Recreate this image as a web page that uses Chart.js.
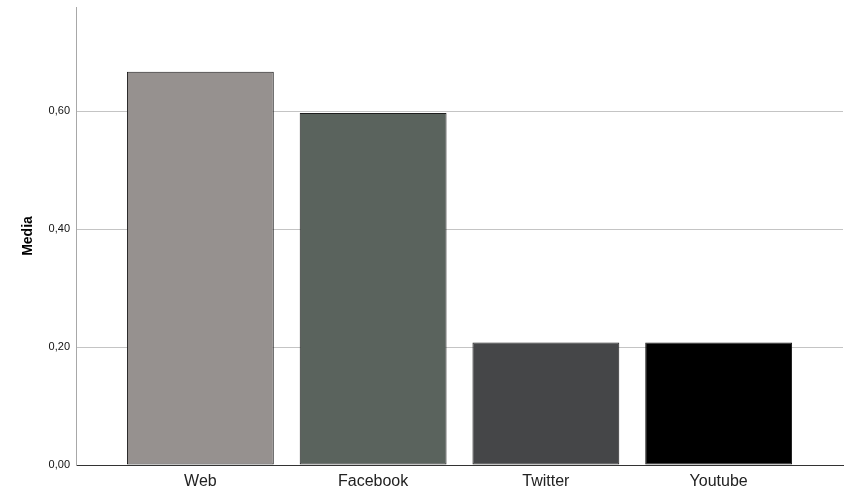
<!DOCTYPE html>
<html>
<head>
<meta charset="utf-8">
<script src="https://cdn.jsdelivr.net/npm/chart.js@4"></script>
<style>
  body { margin: 0; background: #fff; }
  #wrap { width: 853px; height: 503px; }
</style>
</head>
<body>
<div id="wrap"><canvas id="chart" width="853" height="503"></canvas></div>
<script>
// Chart data
const categories = ["Web", "Facebook", "Twitter", "Youtube"];
const means = [0.667, 0.597, 0.208, 0.208];
const barColors = ["#96918f", "#5a635d", "#454648", "#000000"];
const yTicks = [0, 0.2, 0.4, 0.6];

const ctx = document.getElementById("chart").getContext("2d");

new Chart(ctx, {
  type: "bar",
  data: {
    datasets: [{
      label: "Media",
      data: means.map((v, i) => ({ x: i, y: v })),
      backgroundColor: barColors,
      borderColor: "#1e1e1e",
      borderWidth: 1,
      borderSkipped: false,
      categoryPercentage: 1,
      barPercentage: 0.85
    }]
  },
  options: {
    responsive: false,
    animation: false,
    layout: { padding: { top: 7, right: 10, left: 0, bottom: 0 } },
    plugins: {
      legend: { display: false },
      tooltip: { enabled: false }
    },
    scales: {
      x: {
        type: "linear",
        offset: false,
        min: -0.72,
        max: 3.72,
        grid: { display: false, drawTicks: false, offset: false },
        border: { display: true, color: "#333333", width: 1 },
        afterBuildTicks: scale => {
          scale.ticks = categories.map((c, i) => ({ value: i }));
        },
        afterFit: scale => {
          scale.height = 38;
          scale.paddingLeft = 0;
          scale.paddingRight = 0;
        },
        ticks: {
          padding: 7,
          color: "#222",
          font: { family: "Liberation Sans, Arial", size: 16 },
          callback: v => categories[v] || ""
        }
      },
      y: {
        min: 0,
        max: 0.777,
        afterBuildTicks: scale => {
          scale.ticks = yTicks.map(v => ({ value: v }));
        },
        afterFit: scale => {
          scale.width = 76;
          scale.paddingTop = 0;
          scale.paddingBottom = 0;
        },
        grid: {
          color: ctx => ctx.tick && ctx.tick.value === 0 ? "rgba(0,0,0,0)" : "#c4c4c4",
          drawTicks: false,
          lineWidth: 1
        },
        border: { display: true, color: "#a8a8a8", width: 1 },
        ticks: {
          padding: 6,
          color: "#111",
          font: { family: "Liberation Sans, Arial", size: 11 },
          callback: v => v.toFixed(2).replace(".", ",")
        },
        title: {
          display: true,
          text: "Media",
          color: "#000",
          font: { family: "Liberation Sans, Arial", size: 14, weight: "bold" },
          padding: { top: 20, bottom: 0 }
        }
      }
    }
  }
});
</script>
</body>
</html>
